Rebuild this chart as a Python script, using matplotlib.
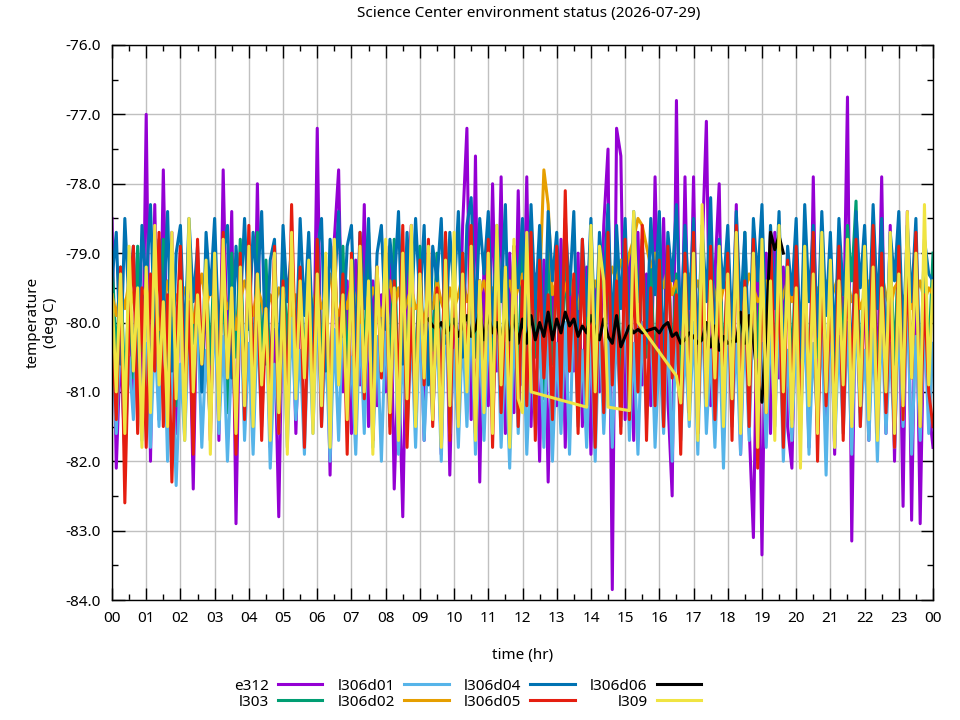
import numpy as np
import matplotlib.pyplot as plt
from matplotlib.ticker import MultipleLocator, FixedLocator

plt.rcParams['font.family'] = ['Noto Sans', 'DejaVu Sans']
plt.rcParams['font.size'] = 11

# one reading every 7.5 minutes, 00:00 .. 24:00
step_hr = 0.125
hours = np.arange(193) * step_hr

e312 = [
    -78.5, -82.1, -80.3, -81.9, -79.4, -81.2, -79.0, -81.5,
    -77.0, -82.0, -78.3, -81.4, -77.8, -80.9, -78.7, -81.6,
    -78.9, -81.2, -79.5, -82.4, -79.2, -81.0, -79.6, -81.3,
    -79.1, -81.7, -77.8, -80.6, -78.4, -82.9, -79.3, -81.1,
    -79.0, -81.5, -78.0, -81.2, -79.4, -81.8, -80.1, -82.8,
    -79.3, -81.0, -79.1, -81.6, -79.5, -80.8, -79.0, -81.4,
    -77.2, -81.3, -79.2, -82.2, -78.8, -77.8, -81.0, -79.4,
    -81.6, -79.1, -80.9, -78.3, -81.5, -79.4, -81.2, -79.6,
    -81.0, -78.9, -82.4, -80.5, -82.8, -79.5, -78.6, -81.3,
    -79.4, -81.7, -79.0, -80.6, -79.3, -81.9, -78.9, -82.2,
    -79.5, -81.1, -78.6, -77.2, -81.4, -77.6, -82.3, -79.1,
    -81.2, -78.0, -80.7, -77.9, -81.6, -79.0, -81.3, -78.1,
    -80.9, -77.9, -81.5, -79.3, -82.0, -79.1, -82.3, -79.6,
    -81.2, -78.8, -81.8, -79.4, -80.7, -79.0, -81.5, -79.2,
    -81.9, -79.5, -81.0, -78.6, -77.5, -83.85, -77.2, -77.6,
    -81.4, -79.0, -81.7, -78.7, -80.9, -79.3, -81.2, -77.9,
    -80.6, -78.5, -81.1, -82.5, -76.8, -81.3, -77.9, -81.0,
    -77.9, -81.4, -79.0, -77.1, -81.2, -79.3, -78.0, -81.6,
    -79.2, -81.1, -78.3, -81.9, -79.4, -81.5, -83.1, -79.2,
    -83.35, -79.0, -81.6, -78.7, -80.8, -79.2, -81.5, -82.1,
    -79.3, -81.0, -79.5, -81.8, -77.9, -81.2, -78.8, -81.4,
    -79.1, -81.9, -78.7, -80.5, -76.75, -83.15, -78.9, -81.3,
    -79.4, -81.7, -79.0, -80.9, -77.9, -81.6, -78.6, -82.0,
    -79.2, -82.65, -78.4, -82.85, -79.0, -82.9, -79.5, -81.2,
    -81.8,
]

l303 = [
    -79.0, -80.6, -79.2, -81.0, -79.5, -80.8, -78.9, -80.4,
    -79.3, -81.1, -79.0, -80.5, -78.8, -80.9, -79.4, -81.2,
    -79.1, -80.7, -78.7, -80.3, -79.6, -81.0, -79.2, -80.6,
    -78.9, -80.8, -79.3, -81.3, -79.0, -80.5, -78.8, -80.9,
    -79.4, -81.0, -78.7, -80.6, -79.1, -80.8, -79.5, -81.1,
    -79.0, -80.4, -78.9, -81.0, -79.3, -80.7, -79.0, -80.9,
    -78.8, -80.6, -79.4, -81.2, -79.1, -80.5, -78.9, -80.8,
    -79.2, -81.0, -79.0, -80.6, -78.7, -80.9, -79.3, -80.5,
    -79.0, -80.8, -78.8, -81.1, -79.4, -80.6, -79.1, -80.9,
    -78.9, -80.7, -79.2, -80.4, -79.0, -81.0, -78.8, -80.6,
    -79.3, -80.9, -79.0, -81.2, -78.9, -80.5, -79.4, -80.8,
    -79.1, -80.6, -78.7, -80.9, -79.2, -81.0, -79.0, -80.7,
    -78.9, -80.8, -79.3, -80.5, -79.0, -81.1, -78.8, -80.6,
    -79.2, -80.9, -79.0, -80.7, -79.4, -81.0, -79.1, -80.5,
    -78.8, -80.8, -79.3, -81.2, -79.0, -80.6, -78.9, -80.9,
    -79.4, -80.7, -79.1, -81.0, -78.8, -80.5, -79.2, -80.8,
    -79.0, -81.1, -78.9, -80.6, -79.3, -80.9, -79.0, -80.7,
    -78.8, -80.5, -79.2, -81.0, -79.1, -80.8, -78.9, -80.6,
    -79.3, -80.9, -79.0, -80.7, -78.7, -81.1, -79.2, -80.5,
    -79.0, -80.8, -79.4, -80.6, -78.9, -81.0, -79.1, -80.7,
    -78.9, -80.6, -79.2, -80.9, -79.0, -80.5, -78.8, -81.0,
    -79.2, -80.7, -79.0, -80.5, -78.6, -79.4, -78.25, -80.9,
    -79.1, -80.6, -78.9, -81.0, -79.3, -80.8, -79.0, -80.6,
    -78.8, -80.9, -79.2, -80.7, -79.0, -81.1, -79.3, -80.5,
    -79.0,
]

l306d01 = [
    -80.2, -81.6, -80.0, -81.9, -80.5, -81.4, -79.8, -81.7,
    -80.3, -81.8, -80.1, -81.5, -79.7, -82.0, -80.4, -82.35,
    -80.6, -81.7, -80.0, -81.3, -79.9, -81.8, -80.4, -81.5,
    -79.8, -81.6, -80.2, -82.0, -80.5, -81.4, -79.6, -81.7,
    -80.3, -81.9, -80.0, -81.5, -79.8, -82.1, -80.6, -81.6,
    -80.1, -81.8, -79.9, -81.4, -80.4, -81.9, -80.0, -81.6,
    -79.7, -81.5, -80.3, -82.0, -80.1, -81.7, -79.9, -81.4,
    -80.5, -81.9, -80.0, -81.6, -79.6, -81.8, -80.2, -82.0,
    -80.0, -81.5, -79.8, -81.9, -80.4, -81.6, -80.1, -81.8,
    -79.9, -81.7, -80.3, -81.4, -80.0, -82.0, -79.7, -81.6,
    -80.4, -81.8, -80.1, -81.5, -79.8, -81.9, -80.2, -81.7,
    -80.0, -81.4, -79.6, -81.8, -80.3, -82.1, -80.0, -81.6,
    -79.8, -81.9, -80.4, -81.5, -80.1, -81.8, -79.9, -82.0,
    -80.3, -81.6, -80.0, -81.9, -79.7, -81.5, -80.4, -81.8,
    -80.1, -82.0, -79.9, -81.6, -80.2, -81.8, -80.0, -81.5,
    -79.6, -81.7, -80.3, -81.9, -80.0, -81.4, -79.8, -81.8,
    -80.4, -81.6, -80.1, -82.0, -79.9, -81.7, -80.3, -81.5,
    -80.0, -81.9, -79.7, -81.6, -80.4, -81.8, -80.1, -82.1,
    -79.8, -81.5, -80.2, -81.9, -80.0, -81.7, -79.6, -81.6,
    -80.3, -81.8, -80.0, -81.5, -79.8, -82.0, -80.4, -81.7,
    -80.1, -81.6, -79.9, -81.9, -80.3, -81.5, -80.0, -82.2,
    -79.7, -81.8, -80.2, -81.6, -80.0, -81.9, -79.8, -81.5,
    -80.4, -81.7, -80.1, -82.0, -79.9, -81.6, -80.3, -81.8,
    -80.0, -81.5, -79.7, -81.9, -80.2, -81.7, -80.0, -81.6,
    -80.3,
]

l306d02 = [
    -79.6, -79.9, -79.5, -79.8, -79.4, -79.7, -80.0, -79.6,
    -79.5, -79.8, -79.6, -80.1, -79.7, -79.4, -79.9, -79.6,
    -79.8, -79.5, -79.7, -80.0, -79.6, -79.3, -79.8, -79.5,
    -79.7, -79.9, -79.5, -79.8, -79.6, -80.1, -79.7, -79.4,
    -79.6, -79.9, -79.5, -79.7, -80.0, -79.6, -79.8, -79.5,
    -79.7, -79.4, -79.9, -79.6, -79.8, -79.5, -80.0, -79.7,
    -79.5, -79.8, -79.6, -79.3, -79.7, -79.9, -79.6, -79.8,
    -79.4, -79.7, -80.0, -79.6, -79.8, -79.5, -79.7, -79.9,
    -79.6, -79.4, -79.8, -79.5, -79.9, -79.7, -79.5, -79.8,
    -79.7, -80.0, -79.6, -79.8, -79.4, -79.7, -79.9, -79.5,
    -79.8, -79.6, -79.3, -79.7, -79.5, -79.9, -79.6, -79.4,
    -79.7, -79.5, -79.8, -79.3, -79.6, -79.4, -79.7, -79.5,
    -79.3, -79.6, -79.4, -79.7, -79.5, -77.8, -78.3, -79.6,
    -79.4, -79.7, -79.5, -79.3, -79.6, -79.8, -79.4, -79.5,
    -79.7, -79.4, -79.6, -79.3, -79.5, -79.2, -79.4, -79.1,
    -79.3, -79.0, -78.8, -78.5, -78.6, -78.9, -79.2, -79.0,
    -79.3, -79.5, -79.2, -79.6, -79.4, -79.7, -79.5, -79.3,
    -79.6, -79.4, -79.7, -79.5, -79.3, -79.6, -79.8, -79.5,
    -79.4, -79.7, -79.5, -79.8, -79.6, -79.3, -79.5, -79.7,
    -79.6, -79.4, -79.7, -79.5, -79.8, -79.6, -79.4, -79.7,
    -79.5, -79.8, -79.6, -79.3, -79.7, -79.5, -79.6, -79.4,
    -79.7, -79.5, -79.3, -79.6, -79.4, -79.7, -79.5, -79.8,
    -79.6, -79.4, -79.7, -79.5, -79.3, -79.6, -79.8, -79.5,
    -79.4, -79.7, -79.5, -79.8, -79.6, -79.4, -79.7, -79.5,
    -79.6,
]

l306d04 = [
    -79.4, -78.7, -80.6, -78.5, -79.8, -78.9, -80.9, -78.6,
    -79.5, -78.3, -80.2, -78.8, -79.9, -78.4, -80.7, -79.0,
    -78.6, -80.4, -78.5, -79.7, -78.9, -81.0, -78.7, -79.6,
    -78.5, -80.3, -79.0, -78.6, -80.8, -78.9, -79.8, -78.5,
    -80.1, -78.7, -79.5, -78.4, -80.6, -79.1, -78.8, -80.9,
    -78.6, -79.7, -78.9, -80.5, -78.5, -79.9, -78.7, -80.3,
    -79.0, -78.5, -80.7, -78.8, -79.6, -78.4, -80.2, -78.9,
    -78.6, -80.4, -78.7, -79.8, -78.5, -80.8, -79.0, -78.6,
    -80.1, -78.8, -79.5, -78.4, -80.6, -78.7, -79.9, -78.5,
    -79.7, -78.6, -80.9, -78.9, -79.4, -78.5, -80.3, -78.7,
    -79.6, -78.4, -80.5, -78.6, -78.2, -80.0, -78.5, -79.3,
    -78.4, -80.2, -78.6, -79.7, -78.3, -80.8, -78.9, -79.5,
    -78.5, -80.3, -78.3, -79.8, -78.6, -80.6, -78.4, -79.4,
    -78.7, -80.1, -78.5, -79.6, -78.4, -80.7, -78.8, -79.9,
    -78.5, -80.4, -78.7, -79.5, -78.3, -80.2, -78.6, -79.8,
    -78.5, -80.5, -78.4, -79.7, -78.9, -80.3, -78.5, -79.6,
    -78.4, -80.6, -78.7, -79.4, -78.3, -80.1, -78.6, -79.8,
    -78.5, -80.4, -78.6, -79.7, -78.2, -80.5, -78.8, -79.5,
    -78.6, -80.2, -78.4, -79.9, -78.7, -80.6, -78.5, -79.4,
    -78.3, -80.3, -78.6, -79.8, -78.4, -80.7, -78.9, -79.6,
    -78.5, -80.5, -78.3, -79.7, -78.6, -80.2, -78.4, -79.9,
    -78.7, -80.4, -78.5, -79.6, -78.9, -80.8, -78.4, -79.5,
    -78.6, -80.1, -78.3, -79.8, -78.5, -80.6, -78.7, -79.4,
    -78.4, -80.3, -78.6, -79.7, -78.5, -80.9, -78.8, -79.3,
    -79.4,
]

l306d05 = [
    -80.1, -81.4, -79.2, -82.6, -80.0, -78.9, -81.6, -79.5,
    -81.8, -79.3, -80.7, -78.7, -81.5, -79.6, -82.3, -80.2,
    -78.9, -81.3, -79.7, -81.9, -78.8, -80.6, -79.4, -81.7,
    -79.1, -81.2, -78.7, -80.8, -79.6, -81.9, -79.0, -81.4,
    -78.6, -80.9, -79.3, -81.7, -79.8, -81.1, -78.9, -81.6,
    -79.4, -81.3, -78.3, -80.7, -79.2, -81.8, -79.7, -81.0,
    -78.8, -81.5, -79.5, -81.2, -78.9, -80.6, -79.3, -81.9,
    -79.0, -81.4, -78.7, -81.1, -79.6, -81.7, -79.2, -80.8,
    -78.9, -81.6, -79.4, -81.0, -78.6, -81.8, -79.8, -81.3,
    -79.1, -80.9, -78.8, -81.5, -79.5, -81.2, -78.7, -81.7,
    -79.3, -81.4, -79.0, -80.8, -78.6, -81.6, -79.4, -81.1,
    -78.8, -81.8, -79.2, -81.3, -79.7, -80.9, -78.9, -81.5,
    -79.4, -81.2, -78.7, -81.7, -79.1, -80.8, -79.6, -81.4,
    -78.9, -81.1, -78.1, -80.7, -79.3, -81.6, -78.8, -81.2,
    -79.5, -81.8, -79.0, -81.3, -78.7, -80.9, -79.4, -81.6,
    -78.8, -81.4, -79.2, -81.0, -78.6, -81.7, -79.5, -81.2,
    -79.1, -81.5, -78.9, -80.8, -79.6, -81.9, -79.0, -81.3,
    -78.7, -81.6, -79.3, -81.1, -78.9, -81.4, -79.7, -80.9,
    -79.0, -81.7, -78.6, -81.2, -79.4, -81.5, -78.8, -82.1,
    -79.2, -81.3, -78.7, -80.8, -79.5, -81.8, -79.1, -81.4,
    -78.9, -81.5, -79.4, -81.0, -78.7, -82.0, -79.3, -81.2,
    -79.6, -81.4, -78.9, -81.7, -79.2, -80.9, -78.8, -81.5,
    -79.3, -81.1, -78.6, -81.6, -79.0, -81.3, -79.5, -81.8,
    -78.9, -81.4, -79.2, -80.8, -78.7, -81.5, -79.6, -81.0,
    -81.5,
]

# l306d06 only reports from 09:15 to 19:37
l306d06_first = 74
l306d06 = [
    -79.95, -80.05, -80.1, -80.0, -80.15, -80.1,
    -79.95, -80.2, -80.05, -79.9, -80.2, -80.1, -79.85, -80.25,
    -79.9, -80.15, -80.0, -80.3, -79.85, -80.25, -79.9, -80.3,
    -79.95, -80.3, -79.9, -80.25, -80.0, -80.2, -79.85, -80.25,
    -79.95, -80.15, -79.85, -80.05, -79.95, -80.2, -80.05, -80.15,
    -79.9, -80.1, -80.25, -79.95, -80.2, -80.3, -79.9, -80.35,
    -80.2, -80.05, -80.15, -80.1, -80.15, -80.12, -80.1, -80.08,
    -80.15, -80.05, -80.0, -80.2, -80.15, -80.3, -80.25, -80.15,
    -80.2, -80.3, -80.25, -80.0, -80.35, -80.05, -80.4, -80.2,
    -80.3, -80.27, -80.27, -79.85, -80.3, -79.9, -80.25, -80.85,
    -81.15, -80.1, -78.7, -78.95, -78.75, -79.0,
]

# None = no reading (gnuplot joins across the gap)
l309 = [
    -79.6, -81.0, -79.3, -81.6, -78.9, -80.7, -79.5, -81.8,
    -79.2, -81.3, -78.6, -80.9, -79.7, -81.5, -78.7, -81.1,
    -79.4, -81.7, -78.5, -81.0, -79.6, -80.6, -79.1, -81.9,
    -79.0, -81.4, -78.8, -80.8, -79.5, -81.6, -79.2, -81.2,
    -78.9, -81.5, -79.3, -80.9, -79.8, -81.7, -79.0, -81.3,
    -79.5, -81.9, -78.7, -81.1, -79.4, -80.8, -79.1, -81.6,
    -79.3, -81.2, -79.0, -81.8, -78.8, -80.9, -79.6, -81.4,
    -79.1, -81.6, -78.9, -81.0, -79.4, -81.9, -79.2, -80.7,
    -78.8, -81.3, -79.5, -81.7, -79.0, -81.1, -78.6, -81.5,
    -79.3, -80.8, -78.9, -81.4, -79.6, -81.8, -79.1, -81.2,
    -78.7, -81.5, -79.3, -81.0, -78.9, -81.7, -79.4, -81.3,
    -79.0, -81.6, -78.6, -80.9, -79.2, -81.8, -78.8, -81.1,
    -81.3, -78.7, -81.0, None, None, None, None, None,
    None, None, None, None, None, None, None, -81.22,
    -78.6, -81.0, -78.9, -79.4, -81.22, None, None, None,
    None, -81.27, -78.4, -80.0, None, None, None, None,
    None, None, None, None, -80.77, -81.16, -79.3, -81.4,
    -79.0, -81.7, -78.3, -81.2, -79.4, -80.8, -78.9, -81.5,
    -79.3, -81.1, -78.7, -81.6, -79.5, -80.9, -79.0, -81.8,
    -78.8, -81.3, -79.4, -81.7, -78.6, -81.0, -79.2, -81.5,
    -79.5, -82.1, -78.9, -81.2, -79.3, -81.6, -78.7, -81.0,
    -79.1, -81.8, -79.4, -80.9, -78.8, -81.5, -79.6, -81.2,
    -78.9, -81.4, -79.2, -81.7, -79.5, -81.0, -78.7, -81.6,
    -79.3, -81.2, -78.4, -80.8, -79.0, -81.5, -78.3, -80.9,
    -79.4,
]

names = ["e312", "l303", "l306d01", "l306d02", "l306d04", "l306d05", "l306d06", "l309"]
colors = ["#9400d3", "#009e73", "#56b4e9", "#e69f00", "#0072b2", "#e51e10", "#000000", "#f0e442"]
hour_labels = ["%02d" % (h % 24) for h in range(25)]

full = [e312, l303, l306d01, l306d02, l306d04, l306d05, None, l309]
for n, v in zip(names, full):
    if v is not None:
        assert len(v) == len(hours), (n, len(v))

fig = plt.figure(figsize=(9.6, 7.2), dpi=100)
ax = fig.add_axes([112 / 960, 1 - 600 / 720, (933 - 112) / 960, (600 - 45) / 720])

for name, vals, col in zip(names, full, colors):
    if name == "l306d06":
        t = hours[l306d06_first:l306d06_first + len(l306d06)]
        vals = l306d06
    else:
        t = hours
    t = [a for a, b in zip(t, vals) if b is not None]
    y = [b for b in vals if b is not None]
    ax.plot(t, y, color=col, lw=2.2, label=name)

ax.set_xlim(0, 24)
ax.set_ylim(-84, -76)
ax.xaxis.set_major_locator(FixedLocator(range(25)))
ax.set_xticklabels(hour_labels)
ax.xaxis.set_minor_locator(MultipleLocator(0.5))
ax.yaxis.set_major_locator(MultipleLocator(1.0))
ax.yaxis.set_minor_locator(MultipleLocator(0.5))
ax.yaxis.set_major_formatter(plt.FormatStrFormatter('%.1f'))
ax.tick_params(which='both', direction='in', top=True, right=True, color='black')
ax.tick_params(which='major', length=9, width=1, pad=8, labelsize=11)
ax.tick_params(which='minor', length=4.5, width=1)
ax.grid(True, which='major', color='#c0c0c0', lw=1)
ax.set_axisbelow(True)
for s in ax.spines.values():
    s.set_linewidth(1)
    s.set_color('black')

ax.set_xlabel('time (hr)', fontsize=11, labelpad=16)
ax.set_ylabel('temperature\n(deg C)', fontsize=11, labelpad=5)
fig.text(0.551, 1 - 13 / 720, 'Science Center environment status (2026-07-29)',
         ha='center', va='center', fontsize=11)

handles, labels = ax.get_legend_handles_labels()
fig.legend(handles, labels, loc='upper center', bbox_to_anchor=(0.487, 1 - 665 / 720),
           ncol=4, frameon=False, markerfirst=False, fontsize=11,
           handlelength=2.9, handletextpad=0.6, columnspacing=1.0, labelspacing=0.05)

fig.savefig('out.png', dpi=100)
